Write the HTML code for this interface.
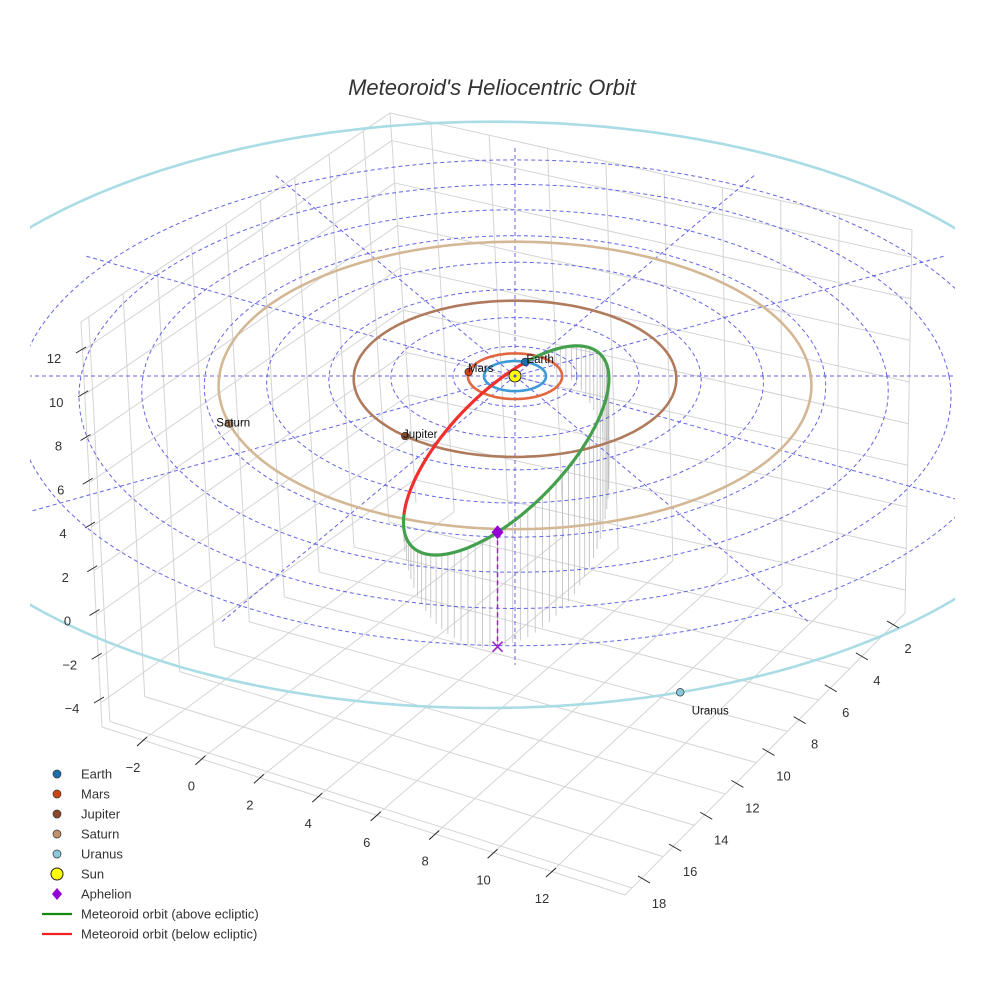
<!DOCTYPE html>
<html><head><meta charset="utf-8">
<style>
html,body{margin:0;padding:0;background:#fff;}
svg{display:block;font-family:"Liberation Sans",sans-serif;}
</style></head>
<body>
<svg id="chart" width="984" height="984" viewBox="0 0 984 984">
  <defs><clipPath id="sceneClip"><rect x="30" y="95" width="925" height="880"/></clipPath></defs>
  <text x="492" y="95" text-anchor="middle" font-size="22" font-style="italic" fill="#333">Meteoroid's Heliocentric Orbit</text>
  <g id="scene" clip-path="url(#sceneClip)"></g>
  <g id="axes"></g>
  <g id="legend"></g>
</svg>
<script>
// ---- data ----
const xTicks = [-2, 0, 2, 4, 6, 8, 10, 12];
const yTicks = [2, 4, 6, 8, 10, 12, 14, 16, 18];
const zTicks = [-4, -2, 0, 2, 4, 6, 8, 10, 12];
const ringRadii = [2, 4, 6, 8, 10, 12, 14, 16];
const spokeAngles = [0, 30, 60, 90, 120, 150, 180, 210, 240, 270, 300, 330];
const spokeLength = 17;
const planetNames = ["Earth", "Mars", "Jupiter", "Saturn", "Uranus"];
const planetRadii = [1.0, 1.52, 5.2, 9.54, 19.2];
const planetAngles = [70.7, 170, 228.5, 199, -73.5];
const planetOrbitOffsetX = [0, 0, 0, 0, -0.8];
const orbitColors = ["#3d9ad6", "#e0673f", "#b07a5c", "#d4b896", "#a9dce4"];
const dotColors = ["#1a6fb0", "#cc4510", "#8a4a2a", "#c0906a", "#8cc8dc"];
const meteoroidA = [8.9];
const meteoroidE = [0.89];
const apsisDir = [0.0298, 0.954, -0.298];
const minorDir = [0.769, 0.168, 0.615];

const NS = "http://www.w3.org/2000/svg";
function mk(tag, attrs, parent) {
  const el = document.createElementNS(NS, tag);
  for (const k in attrs) el.setAttribute(k, attrs[k]);
  parent.appendChild(el);
  return el;
}
// projection of heliocentric (AU) coordinates
function proj(X, Y, Z) {
  Z = Z || 0;
  const d = 1 + 0.0069 * Y;
  return [515 + 31 * X / d, 376 - (15 * Y + 20.3 * Z) / d];
}
const scene = document.getElementById('scene');
const axes = document.getElementById('axes');
const legend = document.getElementById('legend');

// ---- box ----
const L = [102, 727], F = [625, 895], R = [905, 613], B = [416, 503];
const TL = [81, 322], TB = [390, 113], TR = [912, 230];
const lerp = (a, b, t) => [a[0] + (b[0] - a[0]) * t, a[1] + (b[1] - a[1]) * t];
const xs = v => (v + 3.4) / 17.9;
const ys = v => (18.45 - v) / 18;
const zs = v => (v + 5.1) / 18.4;
function gline(p, q, name) {
  const el = mk('line', {x1: p[0], y1: p[1], x2: q[0], y2: q[1], stroke: '#d4d4d4', 'stroke-width': 1}, scene);
  
  
}
// left wall (y direction)
yTicks.forEach(v => { const u = ys(v); gline(lerp(L, B, u), lerp(TL, TB, u), 'left-wall-gridline'); });
zTicks.concat([13.3]).forEach(v => { const w = zs(v); gline(lerp(L, TL, w), lerp(B, TB, w), 'left-wall-z-gridline'); });
// right wall (x direction)
xTicks.forEach(v => { const u = xs(v); gline(lerp(B, R, u), lerp(TB, TR, u), 'right-wall-gridline'); });
zTicks.concat([13.3]).forEach(v => { const w = zs(v); gline(lerp(B, TB, w), lerp(R, TR, w), 'right-wall-z-gridline'); });
gline(B, TB, 'back-edge'); gline(L, TL, 'left-edge'); gline(R, TR, 'right-edge');
// floor
xTicks.forEach(v => { const s = xs(v); gline(lerp(L, F, s), lerp(B, R, s), 'floor-x-gridline'); });
yTicks.forEach(v => { const t = ys(v); gline(lerp(L, B, t), lerp(F, R, t), 'floor-y-gridline'); });
gline(L, F, 'floor-front-edge'); gline(F, R, 'floor-right-edge');

// ---- axis ticks ----
xTicks.forEach(v => {
  const P = lerp([143, 740], [552, 871], (v + 2) / 14);
  const t = mk('line', {x1: P[0] - 6, y1: P[1] + 6, x2: P[0] + 4, y2: P[1] - 3, stroke: '#222', 'stroke-width': 1}, axes);
   
  const lb = mk('text', {x: P[0] - 10, y: P[1] + 32, 'text-anchor': 'middle', 'font-size': 13, fill: '#333'}, axes);
  lb.textContent = v < 0 ? '\u2212' + (-v) : v;
   
});
yTicks.forEach(v => {
  const P = lerp([887, 621], [638, 876], (v - 2) / 16);
  const t = mk('line', {x1: P[0], y1: P[1], x2: P[0] + 12, y2: P[1] + 7, stroke: '#222', 'stroke-width': 1}, axes);
   
  const lb = mk('text', {x: P[0] + 21, y: P[1] + 32, 'text-anchor': 'middle', 'font-size': 13, fill: '#333'}, axes);
  lb.textContent = v;
   
});
zTicks.forEach(v => {
  const P = lerp([76, 353], [94, 703], (12 - v) / 16);
  const t = mk('line', {x1: P[0], y1: P[1], x2: P[0] + 10, y2: P[1] - 6, stroke: '#222', 'stroke-width': 1}, axes);
   
  const lb = mk('text', {x: P[0] - 22, y: P[1] + 10, 'text-anchor': 'middle', 'font-size': 13, fill: '#333'}, axes);
  lb.textContent = v < 0 ? '\u2212' + (-v) : v;
   
});

// ---- meteoroid orbit points ----
const a = meteoroidA[0], e = meteoroidE[0], b = a * Math.sqrt(1 - e * e);
const orbPts = [];
for (let i = 0; i <= 720; i++) {
  const E = -Math.PI + i * 2 * Math.PI / 720;
  const p = a * (Math.cos(E) - e), q = b * Math.sin(E);
  orbPts.push([p * apsisDir[0] + q * minorDir[0], p * apsisDir[1] + q * minorDir[1], p * apsisDir[2] + q * minorDir[2]]);
}
// stems
for (let i = 0; i < orbPts.length; i += 8) {
  const o = orbPts[i];
  if (o[2] <= 0) continue;
  const p1 = proj(o[0], o[1], o[2]), p2 = proj(o[0], o[1], 0);
  const s = mk('line', {x1: p1[0], y1: p1[1], x2: p2[0], y2: p2[1], stroke: '#bdbdbd', 'stroke-width': 0.8}, scene);
   
}

// ---- dashed polar grid ----
ringRadii.forEach(r => {
  let d = '';
  for (let i = 0; i <= 180; i++) { const t = i * Math.PI / 90; const p = proj(r * Math.cos(t), r * Math.sin(t)); d += (i ? 'L' : 'M') + p[0].toFixed(1) + ',' + p[1].toFixed(1); }
  const el = mk('path', {d: d, fill: 'none', stroke: '#4a4ae0', 'stroke-width': 1, 'stroke-dasharray': '4,3', opacity: 0.85}, scene);
   
});
spokeAngles.forEach(ang => {
  const t = ang * Math.PI / 180;
  const p1 = proj(0, 0), p2 = proj(spokeLength * Math.cos(t), spokeLength * Math.sin(t));
  const el = mk('line', {x1: p1[0], y1: p1[1], x2: p2[0], y2: p2[1], stroke: '#4a4ae0', 'stroke-width': 1, 'stroke-dasharray': '4,3', opacity: 0.85}, scene);
   
});

// ---- planet orbits ----
planetNames.forEach((n, k) => {
  const r = planetRadii[k], ox = planetOrbitOffsetX[k];
  let d = '';
  for (let i = 0; i <= 240; i++) { const t = i * Math.PI / 120; const p = proj(ox + r * Math.cos(t), r * Math.sin(t)); d += (i ? 'L' : 'M') + p[0].toFixed(1) + ',' + p[1].toFixed(1); }
  const el = mk('path', {d: d, fill: 'none', stroke: orbitColors[k], 'stroke-width': 2.6}, scene);
   
});

// ---- meteoroid orbit (split by sign of Z) ----
let runs = [], cur = null;
orbPts.forEach(o => {
  const above = o[2] >= 0;
  if (!cur || cur.above !== above) { if (cur) cur.pts.push(o); cur = {above: above, pts: cur ? [cur.pts[cur.pts.length - 2] || o, o] : [o]}; runs.push(cur); }
  else cur.pts.push(o);
});
runs.forEach(rn => {
  const d = rn.pts.map((o, i) => { const p = proj(o[0], o[1], o[2]); return (i ? 'L' : 'M') + p[0].toFixed(1) + ',' + p[1].toFixed(1); }).join('');
  const el = mk('path', {d: d, fill: 'none', stroke: rn.above ? '#44a04c' : '#f0302c', 'stroke-width': 3.2, 'stroke-linejoin': 'round'}, scene);
  
  
});

// ---- aphelion ----
const aph = orbPts[0];
const pa = proj(aph[0], aph[1], aph[2]), pf = proj(aph[0], aph[1], 0);
const dl = mk('line', {x1: pa[0], y1: pa[1], x2: pf[0], y2: pf[1], stroke: '#9b1fd0', 'stroke-width': 1.5, 'stroke-dasharray': '5,3'}, scene);
 
const xm = mk('path', {d: `M${pf[0]-5},${pf[1]-5}L${pf[0]+5},${pf[1]+5}M${pf[0]-5},${pf[1]+5}L${pf[0]+5},${pf[1]-5}`, stroke: '#9b1fd0', 'stroke-width': 1.5}, scene);
 
const dm = mk('path', {d: `M${pa[0]},${pa[1]-7}L${pa[0]+6},${pa[1]}L${pa[0]},${pa[1]+7}L${pa[0]-6},${pa[1]}Z`, fill: '#9400d3'}, scene);
 

// ---- sun ----
const sp = proj(0, 0);
const sun = mk('circle', {cx: sp[0], cy: sp[1], r: 6, fill: '#ffff00', stroke: '#222', 'stroke-width': 1}, scene);
 
const sunIn = mk('circle', {cx: sp[0], cy: sp[1], r: 1.5, fill: '#4a4ae0'}, scene);
 

// ---- planets ----
const labelOff = [[15, -3], [12, -4], [15, -2], [4, -1], [30, 18]];
planetNames.forEach((n, k) => {
  const t = planetAngles[k] * Math.PI / 180;
  const p = proj(planetOrbitOffsetX[k] + planetRadii[k] * Math.cos(t), planetRadii[k] * Math.sin(t));
  const c = mk('circle', {cx: p[0], cy: p[1], r: 3.8, fill: dotColors[k], stroke: '#333', 'stroke-width': 0.7}, scene);
   
  const tx = mk('text', {x: p[0] + labelOff[k][0], y: p[1] + labelOff[k][1] + 4, 'text-anchor': 'middle', 'font-size': 11.5, fill: '#111'}, scene);
  tx.textContent = n;
   
});

// ---- legend ----
const legNames = ["Earth", "Mars", "Jupiter", "Saturn", "Uranus", "Sun", "Aphelion", "Meteoroid orbit (above ecliptic)", "Meteoroid orbit (below ecliptic)"];
legNames.forEach((n, i) => {
  const y = 774 + i * 20;
  const g = mk('g', {}, legend);
   
  if (i < 5) mk('circle', {cx: 57, cy: y, r: 4, fill: dotColors[i], stroke: '#333', 'stroke-width': 0.7}, g);
  else if (i === 5) mk('circle', {cx: 57, cy: y, r: 6, fill: '#ffff00', stroke: '#222', 'stroke-width': 1}, g);
  else if (i === 6) mk('path', {d: `M57,${y-6}L62,${y}L57,${y+6}L52,${y}Z`, fill: '#9400d3'}, g);
  else mk('line', {x1: 42, y1: y, x2: 72, y2: y, stroke: i === 7 ? '#118a11' : '#f02020', 'stroke-width': 2.2}, g);
  const tx = mk('text', {x: 81, y: y + 4.5, 'font-size': 13, fill: '#333'}, g);
  tx.textContent = n;
});
</script>
</body></html>
